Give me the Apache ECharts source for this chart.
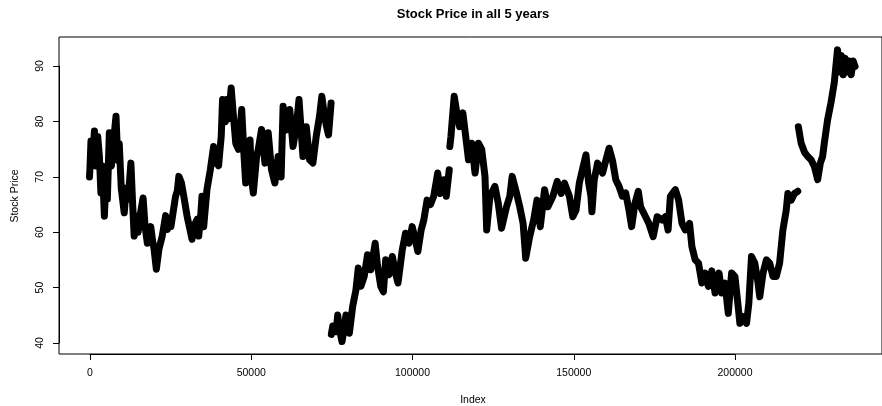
<!DOCTYPE html>
<html>
<head>
<meta charset="utf-8">
<script src="https://cdn.jsdelivr.net/npm/echarts/dist/echarts.min.js"></script>
<style>
  html, body { margin: 0; padding: 0; background: #fff; }
  #chart { width: 882px; height: 406px; }
</style>
</head>
<body>
<div id="chart"></div>
<script>
// [index, price], one array per unbroken run
var run1 = [
  [0, 70], [150, 71.5], [465, 76.5], [840, 72], [1550, 78.3], [2000, 72], [2570, 77.3],
  [3100, 73.7], [3565, 67.1], [4030, 72], [4650, 62.9], [5180, 70], [5580, 66], [6200, 78],
  [6820, 72], [7440, 76], [8280, 81], [8835, 73], [9300, 76], [9920, 68], [10850, 63.5],
  [11470, 68], [12090, 66], [12930, 72.5], [13485, 65], [13950, 59.3], [14570, 63],
  [15190, 60], [15655, 62.5], [16740, 66.2], [17360, 61], [18075, 58], [19130, 61],
  [19685, 58.5], [20150, 57], [20870, 53.3], [21700, 57], [22720, 59.3], [23780, 63],
  [24335, 60.5], [24800, 62.5], [25420, 61], [26880, 66.5], [27435, 67.5], [27900, 70.1],
  [28675, 69], [29450, 66.5], [30475, 62.9], [31000, 61.5], [32025, 58.7], [32550, 61],
  [33575, 62.3], [34100, 59.3], [34720, 63], [35125, 66.5], [35650, 61], [36675, 67.7],
  [37725, 71.3], [38750, 75.5], [39370, 72.5], [39775, 74.3], [40300, 72], [41135, 77.4],
  [41540, 84], [42375, 80], [42780, 84], [43400, 80.5], [44235, 86.1], [44950, 81],
  [45665, 76.1], [46500, 75], [47525, 82.2], [48265, 73.7], [48765, 68.9], [49600, 72.5],
  [50125, 76.7], [50530, 70], [51150, 67.1], [52175, 73.7], [52700, 75], [53720, 78.6],
  [54775, 72.5], [55800, 78], [56825, 71.3], [57875, 68.9], [58900, 73.7], [59830, 70],
  [60450, 82.8], [61475, 78.5], [62525, 82.2], [63550, 75.5], [64575, 79.1], [65410, 84],
  [66125, 78], [66650, 73.7], [67675, 79.1], [68725, 73.1], [69750, 72.5], [70775, 77.3],
  [71825, 81], [72540, 84.6], [73375, 81], [73875, 79.5], [74620, 77.6], [75425, 83.4]
];
var run2 = [
  [75500, 41.5], [75950, 43], [76975, 42], [77500, 45], [78025, 42.5], [78830, 40.2],
  [79360, 42], [80075, 45], [80600, 43], [81125, 41.7], [82150, 46.5], [83175, 49.5],
  [83915, 53.5], [84725, 50.2], [85775, 52], [86800, 55.9], [87825, 53.2], [89185, 58],
  [89900, 54], [90925, 50.2], [91760, 49.2], [92475, 55], [93525, 52.3], [94550, 55.6],
  [95575, 52.5], [96315, 50.8], [97650, 56.8], [98675, 59.8], [99725, 58], [100750, 61],
  [101775, 58.5], [102515, 56.5], [103540, 60.4], [104375, 62.2], [105400, 65.8],
  [106425, 65], [107475, 66.5], [108715, 70.7], [109525, 67], [110575, 69.5],
  [111385, 66.5], [112315, 71.3]
];
var run3 = [
  [112500, 75.5], [112840, 77.3], [113865, 84.6], [114700, 81.5], [115535, 79.1],
  [116560, 81.6], [117585, 76.7], [118325, 73.1], [119350, 76.1], [120375, 70.7],
  [121425, 76.1], [122450, 75], [123475, 70.1], [124000, 60.4], [125025, 66.5],
  [126575, 68.3], [127625, 65.2], [128650, 60.7], [130200, 64.6], [131225, 66.5],
  [131965, 70.1], [133300, 67.1], [134325, 64.6], [135375, 61.6], [136185, 55.3],
  [137425, 59.2], [138665, 62.2], [139715, 65.8], [140740, 61], [142075, 67.7],
  [143125, 64.6], [144675, 66.5], [146010, 69.2], [147250, 67], [148275, 68.9],
  [149825, 66.5], [150875, 62.8], [151900, 64], [152925, 68.9], [153975, 71.5],
  [155000, 74], [155835, 68.9], [156550, 66.5], [156860, 63.7], [157575, 69.5],
  [158625, 72.5], [160175, 70.7], [161200, 73], [162225, 75.2], [163275, 73],
  [164300, 69.5], [165325, 68.3], [166375, 66.5], [167400, 67.1], [168425, 64],
  [169260, 61], [170285, 65.2], [171335, 67.4], [172050, 64.6], [173600, 62.8],
  [174625, 61.6], [175985, 59.2], [177225, 62.8], [178775, 62.2], [179800, 62.8],
  [180635, 60.4], [181350, 66.5], [182900, 67.7], [183925, 65.8], [184975, 61.6],
  [186000, 60.4], [187335, 61.6], [188075, 57.4], [189100, 55], [190125, 54.4],
  [191175, 50.8], [192200, 52.6], [193225, 50.2], [194275, 53], [195300, 49],
  [196540, 52.6], [197375, 49], [198400, 50.8], [199425, 45.3], [200475, 52.6],
  [201500, 52], [202525, 46.5], [203050, 43.5], [204075, 44.7], [205125, 43.5],
  [205840, 47.1], [206675, 55.6], [207700, 54.4], [208725, 50.8], [209250, 48.3],
  [210275, 52.6], [211325, 55], [212350, 54.4], [213375, 52], [214425, 52],
  [215450, 54.4], [216475, 60.4], [217525, 64], [218025, 67], [219075, 65.8],
  [220100, 67], [221125, 67.4]
];
var run4 = [
  [221300, 79.1], [222175, 76.1], [223200, 74.5], [224225, 73.7], [225275, 73.1],
  [226300, 71.9], [227325, 69.5], [228160, 72.5], [228875, 73.7], [229400, 76.1],
  [230425, 80.3], [231475, 83.4], [232500, 87], [233525, 93], [234050, 89],
  [234700, 92], [235300, 88.5], [235900, 91.5], [236550, 89], [237150, 91],
  [237800, 88.5], [238400, 91], [239000, 90]
];

var xTickStep = 50000;
var yTicks = [40, 90];

var chart = echarts.init(document.getElementById('chart'));
var font = '"Liberation Sans", Arial, sans-serif';

function makeRun(data) {
    return {
        type: 'line',
        xAxisIndex: 0,
        yAxisIndex: 0,
        data: data,
        showSymbol: false,
        symbol: 'none',
        silent: true,
        lineStyle: { color: '#000', width: 7, join: 'round', cap: 'round' }
    };
}

chart.setOption({
    animation: false,
    backgroundColor: '#fff',
    grid: [
        // plot region, box drawn by the grid border
        { left: 59, top: 37, width: 829, height: 317, show: true, borderColor: '#000', borderWidth: 1 },
        // x axis from 0 to 200000
        { left: 90, top: 37, width: 645, height: 317 },
        // y axis from 40 to 90
        { left: 59, top: 66, width: 829, height: 277 }
    ],
    xAxis: [
        { gridIndex: 0, type: 'value', min: -9515, max: 247417, show: false },
        {
            gridIndex: 1, type: 'value', min: 0, max: 4 * xTickStep, interval: xTickStep,
            axisLine: { show: true, lineStyle: { color: '#000', width: 1 } },
            axisTick: { show: true, inside: false, length: 6, lineStyle: { color: '#000' } },
            axisLabel: { color: '#000', fontSize: 10.5, fontFamily: font, margin: 14,
                formatter: function (v) { return String(v); } },
            splitLine: { show: false }
        },
        { gridIndex: 2, type: 'value', show: false }
    ],
    yAxis: [
        { gridIndex: 0, type: 'value', min: 37.95, max: 95.33, show: false },
        { gridIndex: 1, type: 'value', show: false },
        {
            gridIndex: 2, type: 'value', min: yTicks[0], max: yTicks[1], interval: 10,
            axisLine: { show: true, lineStyle: { color: '#000', width: 1 } },
            axisTick: { show: true, inside: false, length: 6, lineStyle: { color: '#000' } },
            axisLabel: { color: '#000', fontSize: 10.5, fontFamily: font, margin: 13, rotate: 90 },
            splitLine: { show: false }
        }
    ],
    graphic: [
        { type: 'text', x: 473, y: 14, style: { text: 'Stock Price in all 5 years', fill: '#000',
            font: 'bold 13px ' + font, align: 'center', verticalAlign: 'middle' } },
        { type: 'text', x: 473, y: 400, style: { text: 'Index', fill: '#000',
            font: '10.5px ' + font, align: 'center', verticalAlign: 'middle' } },
        { type: 'text', x: 15, y: 196, rotation: Math.PI / 2, style: { text: 'Stock Price', fill: '#000',
            font: '10.5px ' + font, align: 'center', verticalAlign: 'middle' } }
    ],
    series: [makeRun(run1), makeRun(run2), makeRun(run3), makeRun(run4)]
});
</script>
</body>
</html>
